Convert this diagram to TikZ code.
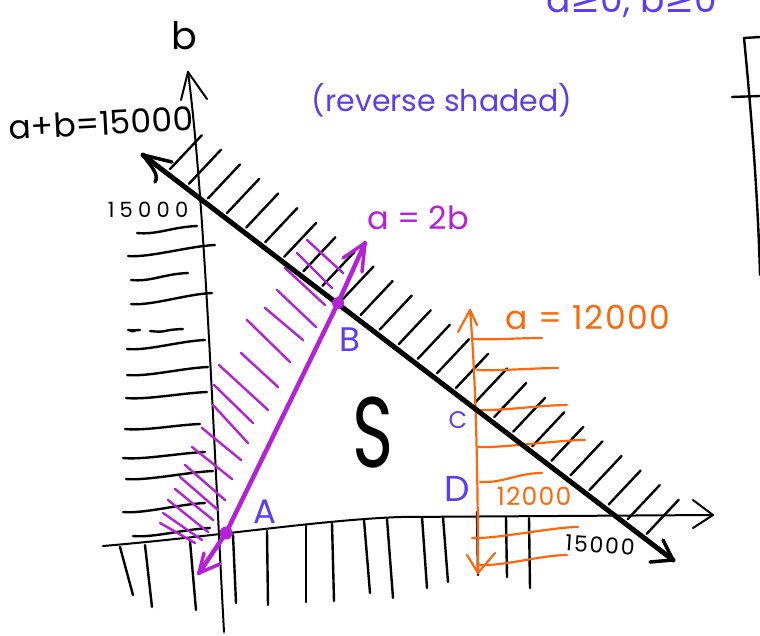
\documentclass[tikz,border=0pt]{standalone}
\usepackage{fontspec}
\setmainfont{Poppins}
\newfontfamily\symfont{DejaVu Sans}
\usetikzlibrary{calc}
\definecolor{hpurple}{RGB}{180,34,216}
\definecolor{hblue}{RGB}{92,60,245}
\definecolor{horange}{RGB}{255,104,10}
\newcommand{\fs}[1]{\fontsize{#1}{#1}\selectfont}
\newcommand{\spaced}[1]{\addfontfeature{LetterSpace=#1}}
\begin{document}
\begin{tikzpicture}[x=1pt,y=-1pt,line cap=round,line join=round,
  axis/.style={black,line width=2pt},
  hatch/.style={black,line width=2.4pt},
  thickline/.style={black,line width=5pt},
  ohatch/.style={horange,line width=2.2pt},
  phatch/.style={hpurple,line width=2.4pt},
  pline/.style={hpurple,line width=4.5pt},
  lbl/.style={inner sep=0pt},
  blbl/.style={inner sep=0pt,text=hblue}]
\useasboundingbox (0,0) rectangle (760,635);

% named points
\coordinate (bTop) at (188,72);
\coordinate (bBot) at (224,632);
\coordinate (aLeft) at (103,546);
\coordinate (aMid) at (400,517);
\coordinate (aRight) at (713,515);
\coordinate (L1) at (143,155);
\coordinate (L2) at (673,560);
\coordinate (Pt) at (365,243);
\coordinate (Pb) at (199,573);
\coordinate (A) at (226,533);
\coordinate (B) at (338,303);
\coordinate (C) at (475,408);
\coordinate (D) at (477,516);
\coordinate (Ot) at (470,310);
\coordinate (Ob) at (478,573);

% left hatch (black, horizontal)
\foreach \xa/\ya/\xb/\yb in {137/233/197/226, 128/256/215/245, 131/280/188/273,
  131/304/212/293, 128/330/140/330, 150/331/183/329, 127/349/205/340,
  127/375/208/367, 126/398/207/392, 125/429/200/424, 123/458/205/452,
  126/479/213/471, 123/512/205/503, 133/536/210/528}
  \draw[hatch] (\xa,\ya) .. controls ({\xa+20},{\ya+2}) and ({\xb-25},{\yb+1}) .. (\xb,\yb);

% bottom hatch (black, vertical)
\foreach \xa/\ya/\xb/\yb in {120/547/133/595, 145/545/152/607, 190/541/196/610,
  233/535/236/603, 267/531/268/605, 306/526/306/602, 332/523/334/601,
  364/520/370/593, 387/519/393/598, 422/517/427/588, 443/517/448/582,
  477/512/478/575, 506/517/507/577, 529/518/530/588}
  \draw[hatch] (\xa,\ya) -- (\xb,\yb);

% hatch above a+b=15000
\foreach \t in {0.045,0.081,...,0.98}
  \draw[hatch] ($(L1)!\t!(L2)+(3,-4)$) -- ++(32,-34);

% axes
\draw[axis] (bBot) .. controls (214,450) and (205,200) .. (bTop);
\draw[axis] (bTop) -- (181,100);
\draw[axis] (bTop) -- (207,99);
\draw[axis] (aLeft) .. controls (220,536) and (320,520) .. (aMid) -- (aRight);
\draw[axis] (aRight) -- (693,500);
\draw[axis] (aRight) -- (693,528);

% purple hatch
\foreach \xa/\ya/\xb/\yb in {307/240/343/273, 297/253/332/288, 285/268/325/305,
  277/290/316/327, 265/308/303/340, 247/320/290/362, 241/353/278/387,
  219/365/268/410, 214/385/253/423, 213/405/248/443, 202/428/241/460,
  192/447/232/479, 185/465/225/500, 180/477/218/510, 175/489/213/520,
  168/500/208/532, 163/513/202/540, 160/523/195/543}
  \draw[phatch] (\xa,\ya) -- (\xb,\yb);

% orange a = 12000
\foreach \xa/\ya/\xb/\yb in {473/339/542/338, 477/370/558/368, 477/410/567/405,
  478/447/585/440, 480/482/542/473, 472/538/578/527, 480/565/567/555}
  \draw[ohatch] (\xa,\ya) .. controls ({\xa+25},{\ya+1}) and ({\xb-25},{\yb}) .. (\xb,\yb);
\draw[ohatch] (Ob) .. controls (478,480) and (476,380) .. (Ot);
\draw[ohatch] (Ot) -- (458,332);
\draw[ohatch] (Ot) -- (477,325);
\draw[ohatch] (Ob) -- (467,555);
\draw[ohatch] (Ob) -- (495,553);

% a + b = 15000 line
\draw[thickline] (L1) -- (L2);
\draw[axis,line width=3.5pt] (L1) .. controls (150,165) and (160,175) .. (155,182);
\draw[axis,line width=3.5pt] (L1) -- (172,162);
\draw[axis,line width=3.5pt] (L2) -- (650,562);
\draw[axis,line width=3.5pt] (L2) -- (663,540);

% purple a = 2b line
\draw[pline] (Pt) -- (B) -- (A) -- (Pb);
\draw[pline,line width=3.5pt] (Pt) -- (343,258);
\draw[pline,line width=3.5pt] (Pt) -- (362,272);
\draw[pline,line width=3.5pt] (Pb) -- (204,553);
\draw[pline,line width=3.5pt] (Pb) -- (220,564);
\fill[hpurple] (A) circle (6.5);
\fill[hpurple] (B) circle (6);

% partial drawing at right edge
\draw[axis,line width=2.4pt] (744,38) -- (760,37);
\draw[axis,line width=2.4pt] (744,38) .. controls (752,120) and (758,200) .. (760,275);
\draw[axis,line width=2.4pt] (732,97) -- (760,96);

% labels
\node[lbl] (lb) at (184,36) {\fs{38}b};
\node[lbl] (lsum) at (101,123) [rotate=3] {\fs{33}a+b=15000};
\node[lbl] (lb15) at (148,210) {\fs{21}\spaced{25}15000};
\node[lbl] (la15) at (600,545) [rotate=-4] {\fs{22}\spaced{8}15000};
\node[blbl] (lrev) at (442,100) {\fs{30}(reverse shaded)};
\node[lbl,text=hpurple] (l2b) at (418,218) {\fs{32}a = 2b};
\node[lbl,text=horange] (l12) at (588,317) {\fs{33}\spaced{5}a = 12000};
\node[lbl,text=horange] (l12b) at (534,496) {\fs{25}\spaced{5}12000};
\node[blbl] (lA) at (265,512) {\fs{34}A};
\node[blbl] (lB) at (350,340) {\fs{34}B};
\node[blbl] (lC) at (458,420) {\fs{24}C};
\node[blbl] (lD) at (457,489) {\fs{36}D};
\node[lbl] (lS) at (373,433) {\fs{100}\scalebox{0.7}[1]{S}};
\node[blbl,anchor=base west] (ltop) at (546,12) {\fs{36}a{\symfont≥}0, b{\symfont≥}0};
\end{tikzpicture}
\end{document}
